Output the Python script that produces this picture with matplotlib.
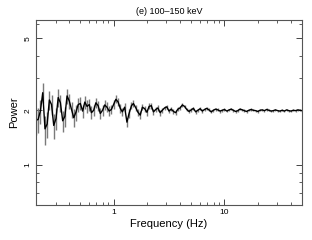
import numpy as np
import matplotlib
matplotlib.use("Agg")
import matplotlib.pyplot as plt
from matplotlib.ticker import FixedLocator, NullFormatter, FixedFormatter

plt.rcParams['font.family'] = ['Liberation Sans', 'DejaVu Sans']

freq = [0.200, 0.209, 0.219, 0.230, 0.241, 0.252, 0.264, 0.276, 0.289, 0.303,
        0.317, 0.332, 0.348, 0.364, 0.381, 0.399, 0.418, 0.438, 0.458, 0.480,
        0.502, 0.526, 0.551, 0.577, 0.604, 0.632, 0.662, 0.693, 0.726, 0.760,
        0.796, 0.833, 0.872, 0.913, 0.956, 1.00, 1.05, 1.10, 1.15, 1.20,
        1.26, 1.32, 1.38, 1.45, 1.51, 1.59, 1.66, 1.74, 1.82, 1.91,
        2.00, 2.09, 2.19, 2.29, 2.40, 2.51, 2.63, 2.75, 2.88, 3.02,
        3.16, 3.31, 3.47, 3.63, 3.80, 3.98, 4.17, 4.37, 4.57, 4.79,
        5.01, 5.25, 5.50, 5.75, 6.03, 6.31, 6.61, 6.92, 7.24, 7.59,
        7.94, 8.32, 8.71, 9.12, 9.55, 10.0, 10.5, 11.0, 11.5, 12.0,
        12.6, 13.2, 13.8, 14.5, 15.1, 15.8, 16.6, 17.4, 18.2, 19.1,
        20.0, 20.9, 21.9, 22.9, 24.0, 25.1, 26.3, 27.5, 28.8, 30.2,
        31.6, 33.1, 34.7, 36.3, 38.0, 39.8, 41.7, 43.7, 45.7, 47.9, 50.1]

power = [1.76, 1.78, 1.98, 2.50, 1.58, 1.68, 2.28, 2.15, 1.65, 1.80,
         2.35, 2.20, 1.75, 1.85, 2.40, 2.25, 2.02, 1.82, 1.95, 2.15,
         2.18, 1.98, 2.22, 2.10, 2.15, 1.94, 2.00, 2.20, 2.12, 1.92,
         2.00, 2.14, 2.08, 1.98, 2.02,
         2.15, 2.30, 2.22, 2.05, 1.96, 2.08, 1.72, 1.92, 2.12, 2.18,
         2.06, 1.95, 1.88, 2.08, 2.04,
         1.95, 2.10, 2.12, 1.96, 2.02, 2.06, 1.94, 2.00, 2.06, 2.09,
         1.98, 2.03, 1.97, 1.94, 2.03,
         2.06, 2.14, 2.10, 2.02, 1.97, 2.01, 2.05, 1.96, 2.00, 2.04,
         1.98, 2.02, 2.05, 2.01, 1.96, 2.00, 2.03, 2.01, 1.98, 2.00,
         2.02, 1.98, 2.01, 2.03, 2.00, 1.97, 1.99, 2.03, 2.01, 1.99,
         1.97, 2.00, 2.02, 2.00, 1.99, 1.97, 2.00, 2.01, 1.99, 2.02,
         2.00, 1.98, 1.99, 2.01, 1.99, 1.98, 2.00, 1.98, 2.01, 1.99,
         1.98, 2.00, 1.99, 2.01, 2.00, 1.99]

err = [0.30, 0.29, 0.30, 0.32, 0.29, 0.28, 0.27, 0.27, 0.26, 0.25,
       0.26, 0.24, 0.24, 0.23, 0.23, 0.22, 0.21, 0.21, 0.20, 0.20,
       0.18, 0.17, 0.18, 0.17, 0.16, 0.16, 0.15, 0.15, 0.14, 0.14,
       0.14, 0.13, 0.13, 0.13, 0.12,
       0.12, 0.12, 0.11, 0.11, 0.11, 0.10, 0.10, 0.10, 0.10, 0.09,
       0.09, 0.09, 0.09, 0.08, 0.08,
       0.08, 0.08, 0.075, 0.075, 0.07, 0.07, 0.07, 0.065, 0.065, 0.06,
       0.06, 0.06, 0.06, 0.055, 0.055,
       0.055, 0.05, 0.05, 0.05, 0.05, 0.048, 0.046, 0.045, 0.045, 0.044,
       0.043, 0.042, 0.041, 0.04, 0.04, 0.039, 0.038, 0.037, 0.036, 0.036,
       0.035, 0.034, 0.034, 0.033, 0.033, 0.032, 0.032, 0.031, 0.031, 0.03,
       0.03, 0.03, 0.029, 0.029, 0.028, 0.028, 0.028, 0.027, 0.027, 0.026,
       0.026, 0.026, 0.025, 0.025, 0.025, 0.024, 0.024, 0.024, 0.023, 0.023,
       0.023, 0.023, 0.022, 0.022, 0.022, 0.022]

fig = plt.figure(figsize=(3.12, 2.40), dpi=100)
ax = fig.add_axes([0.1154, 0.1458, 0.8526, 0.7709])

ax.errorbar(freq, power, yerr=err, fmt='none', ecolor='#7a7a7a', elinewidth=1.0, capsize=0)
ax.plot(freq, power, color='black', lw=1.0)

ax.set_xscale('log')
ax.set_yscale('log')
ax.set_xlim(0.2, 50)
ax.set_ylim(0.6, 6.3)

ax.yaxis.set_major_locator(FixedLocator([1, 2, 5]))
ax.yaxis.set_major_formatter(FixedFormatter(['1', '2', '5']))
ax.yaxis.set_minor_locator(FixedLocator([0.7, 0.8, 0.9, 3, 4, 6]))
ax.yaxis.set_minor_formatter(NullFormatter())
ax.xaxis.set_major_locator(FixedLocator([1, 10]))
ax.xaxis.set_major_formatter(FixedFormatter(['1', '10']))
ax.xaxis.set_minor_locator(FixedLocator([0.2, 0.3, 0.4, 0.5, 0.6, 0.7, 0.8, 0.9,
                                         2, 3, 4, 5, 6, 7, 8, 9, 20, 30, 40, 50]))
ax.xaxis.set_minor_formatter(NullFormatter())

ax.tick_params(which='both', direction='in', top=True, right=True,
               color='#444444', labelsize=6, pad=3)
ax.tick_params(which='major', length=4, width=0.7)
ax.tick_params(which='minor', length=2, width=0.6)
for lab in ax.get_yticklabels():
    lab.set_rotation(90)
    lab.set_va('center')
for s in ax.spines.values():
    s.set_color('#555555')
    s.set_linewidth(0.8)

ax.set_xlabel('Frequency (Hz)', fontsize=8, labelpad=2)
ax.set_ylabel('Power', fontsize=8, labelpad=4)
ax.set_title('(e) 100\u2013150 keV', fontsize=6.5, pad=4)

fig.savefig('out.png', dpi=100)
